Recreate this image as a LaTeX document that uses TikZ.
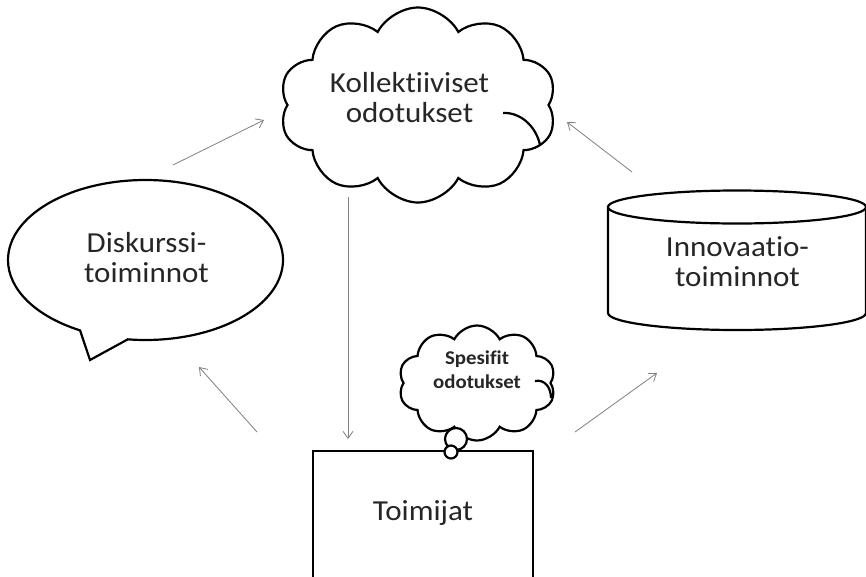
\documentclass[tikz,border=0pt]{standalone}
\usepackage{fontspec}
\setmainfont{Carlito}[Ligatures={NoCommon},FakeStretch=1.07]
\usetikzlibrary{shapes.symbols,shapes.callouts,arrows.meta}
\begin{document}
\begin{tikzpicture}[x=1pt,y=-1pt,
  shapeline/.style={draw=black,line width=2.2pt,fill=white},
  arcline/.style={draw=black,line width=2.2pt},
  lbl/.style={align=center,inner sep=0pt,font=\fontsize{29}{30}\selectfont,text=black!85},
  smalllbl/.style={align=center,inner sep=0pt,font=\bfseries\fontsize{19.5}{24}\selectfont,text=black!85},
  conn/.style={draw=black!50,line width=0.8pt,-{Straight Barb[length=7pt,width=10pt]}},
  bigcloud/.style={shapeline,cloud,cloud puffs=10,cloud puff arc=125,cloud ignores aspect,minimum width=277pt,minimum height=195pt,inner sep=0pt},
  smallcloud/.style={shapeline,cloud,cloud puffs=10,cloud puff arc=125,cloud ignores aspect,minimum width=157pt,minimum height=115pt,inner sep=0pt},
  bubble/.style={shapeline,circle,inner sep=0pt}
]
\useasboundingbox (0,0) rectangle (866,576);
\fill[white] (0,0) rectangle (866,576);
\clip (0,0) rectangle (866,576);

% top cloud
\node[bigcloud] (kc) at (418,105) {};
\draw[arcline] (503,113) .. controls (520,112) and (536,126) .. (540,145);
\node[lbl] (kct) at (409.5,98) {Kollektiiviset\\odotukset};

% speech bubble
\node[shapeline,ellipse callout,minimum width=275pt,minimum height=160pt,
      callout absolute pointer={(90,360)},callout pointer arc=21] (disk) at (145.5,260) {};
\node[lbl] (diskt) at (146.5,258) {Diskurssi-\\toiminnot};

% cylinder
\draw[shapeline] (608,207) -- (608,313) arc[start angle=180,end angle=0,x radius=129,y radius=17] -- (866,207) -- cycle;
\draw[shapeline] (737,207) ellipse [x radius=129,y radius=16.5];
\node[lbl] (innt) at (737.5,262) {Innovaatio-\\toiminnot};

% actors box
\node[shapeline,rectangle,minimum width=220pt,minimum height=160pt,inner sep=0pt] (toim) at (423,531) {};
\node[lbl] (toimt) at (423,513) {Toimijat};

% small thought cloud
\node[smallcloud] (sc) at (477,383) {};
\draw[arcline] (535,381) .. controls (545,379) and (551,388) .. (551,398);
\node[smalllbl] (sct) at (477,370) {Spesifit\\odotukset};
\node[bubble,minimum size=22pt] (tb1) at (456,439) {};
\node[bubble,minimum size=13pt] (tb2) at (451,452) {};

% connectors
\coordinate (a1s) at (173,165); \coordinate (a1e) at (264,120);
\coordinate (a2s) at (632,172); \coordinate (a2e) at (567,122);
\coordinate (a3s) at (257,432); \coordinate (a3e) at (199,367);
\coordinate (a4s) at (575,432); \coordinate (a4e) at (657,373);
\coordinate (a5s) at (348,197); \coordinate (a5e) at (348,439);
\draw[conn] (a1s) -- (a1e);
\draw[conn] (a2s) -- (a2e);
\draw[conn] (a3s) -- (a3e);
\draw[conn] (a4s) -- (a4e);
\draw[conn] (a5s) -- (a5e);
\end{tikzpicture}
\end{document}
